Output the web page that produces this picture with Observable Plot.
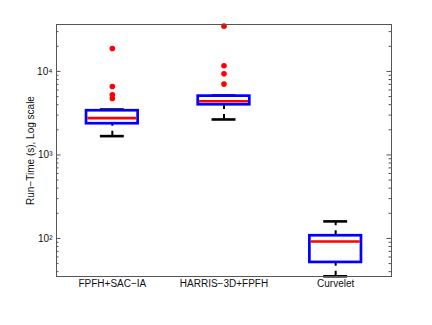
<!DOCTYPE html>
<html>
<head>
<meta charset="utf-8">
<script src="https://cdn.jsdelivr.net/npm/d3@7"></script>
<script src="https://cdn.jsdelivr.net/npm/@observablehq/plot@0.6"></script>
<style>
  html, body { margin: 0; padding: 0; background: #fff; }
</style>
</head>
<body>
<div id="chart"></div>
<script>
const categories = ["FPFH+SAC\u2212IA", "HARRIS\u22123D+FPFH", "Curvelet"];
const lowerWhisker = [1680, 2660, 35.2];
const q1 = [2365, 3990, 51.6];
const medians = [2760, 4405, 92];
const q3 = [3384, 5060, 107.7];
const upperWhisker = [3500, 5150, 160];
const outlierGroup = [0, 0, 0, 0, 1, 1, 1, 1];
const outlierValue = [18850, 6610, 5260, 4750, 34900, 11700, 9380, 7050];
const yTicks = [100, 1000, 10000];
const yLabel = "Run\u2212Time (s), Log scale";

const boxes = categories.map((name, k) => ({
  i: k + 1, name, lo: lowerWhisker[k], q1: q1[k], med: medians[k], q3: q3[k], hi: upperWhisker[k]
}));
const outliers = outlierValue.map((v, k) => ({i: outlierGroup[k] + 1, v}));

const yDomain = [35, 36500];
const minorTicks = [];
for (let e = 1; e <= 4; e++) for (let m = 2; m <= 9; m++) {
  const t = m * Math.pow(10, e);
  if (t >= yDomain[0] && t <= yDomain[1]) minorTicks.push(t);
}
const sup = {"0":"\u2070","1":"\u00b9","2":"\u00b2","3":"\u00b3","4":"\u2074","5":"\u2075"};

const W = 432, H = 325, mL = 56, mR = 41, mT = 24, mB = 49;
const innerW = W - mL - mR;

const plot = Plot.plot({
  width: W, height: H,
  marginLeft: mL, marginRight: mR, marginTop: mT, marginBottom: mB,
  style: {fontFamily: "'Liberation Sans', Arial, sans-serif", fontSize: "10px", background: "#fff", color: "#000"},
  x: {type: "linear", domain: [0.5, 3.5], axis: null},
  y: {type: "log", domain: yDomain, axis: null},
  marks: [
    Plot.tickY(minorTicks, {y: d => d, insetRight: innerW - 2.5, stroke: "#555"}),
    Plot.tickY(minorTicks, {y: d => d, insetLeft: innerW - 2.5, stroke: "#555"}),
    Plot.tickY(yTicks, {y: d => d, insetRight: innerW - 4.5, stroke: "#555"}),
    Plot.tickY(yTicks, {y: d => d, insetLeft: innerW - 4.5, stroke: "#555"}),
    Plot.ruleX(boxes, {x: "i", y1: "q3", y2: "hi", stroke: "black", strokeWidth: 2, strokeDasharray: "5,5"}),
    Plot.ruleX(boxes, {x: "i", y1: "lo", y2: "q1", stroke: "black", strokeWidth: 2, strokeDasharray: "5,5"}),
    Plot.ruleY(boxes, {y: "hi", x1: d => d.i - 0.107, x2: d => d.i + 0.107, stroke: "black", strokeWidth: 2.6}),
    Plot.ruleY(boxes, {y: "lo", x1: d => d.i - 0.107, x2: d => d.i + 0.107, stroke: "black", strokeWidth: 2.6}),
    Plot.rect(boxes, {x1: d => d.i - 0.231, x2: d => d.i + 0.231, y1: "q1", y2: "q3", stroke: "#0000ff", strokeWidth: 2.7, fill: "none"}),
    Plot.ruleY(boxes, {y: "med", x1: d => d.i - 0.22, x2: d => d.i + 0.22, stroke: "#ff0000", strokeWidth: 2.6}),
    Plot.dot(outliers, {x: "i", y: "v", r: 2.8, fill: "#ff0000", stroke: "none"}),
    Plot.frame({stroke: "#555", strokeWidth: 1}),
    Plot.axisX([1, 2, 3], {tickSize: 0, tickPadding: 3, tickFormat: d => categories[d - 1], label: null, fill: "#111"}),
    Plot.axisY(yTicks, {tickSize: 0, tickPadding: 4, tickFormat: d => "10" + sup[String(Math.round(Math.log10(d)))], label: null, fill: "#111"}),
    Plot.text([yLabel], {text: d => d, frameAnchor: "left", textAnchor: "middle", dx: -26, rotate: -90, fill: "#111"})
  ]
});
document.getElementById("chart").appendChild(plot);
</script>
</body>
</html>
